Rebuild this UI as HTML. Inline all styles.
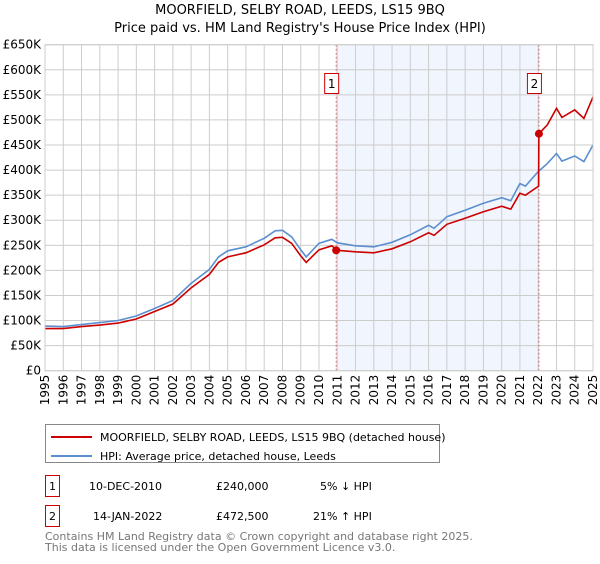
<!DOCTYPE html>
<html><head><meta charset="utf-8"><style>
body{margin:0;background:#fff;font-family:"DejaVu Sans","Liberation Sans",sans-serif;}
svg text{font-family:"DejaVu Sans","Liberation Sans",sans-serif;}
</style></head><body>
<svg id="chart" width="600" height="560">
<text x="300" y="14" text-anchor="middle" font-size="13" fill="#000">MOORFIELD, SELBY ROAD, LEEDS, LS15 9BQ</text>
<text x="300" y="32" text-anchor="middle" font-size="13" fill="#000">Price paid vs. HM Land Registry's House Price Index (HPI)</text>
<g id="plot"></g>
<g>
<rect x="45.5" y="424.5" width="394" height="38" fill="#fff" stroke="#888"/>
<line x1="51" y1="437" x2="92" y2="437" stroke="#cc0000" stroke-width="2"/>
<text x="100" y="441" font-size="11">MOORFIELD, SELBY ROAD, LEEDS, LS15 9BQ (detached house)</text>
<line x1="51" y1="456" x2="92" y2="456" stroke="#5b8fd0" stroke-width="2"/>
<text x="100" y="460" font-size="11">HPI: Average price, detached house, Leeds</text>
</g>
<g font-size="11">
<rect x="45.5" y="475.5" width="14" height="21" fill="#fff" stroke="#cc0000"/>
<text x="52.5" y="490" text-anchor="middle">1</text>
<text x="89" y="490">10-DEC-2010</text>
<text x="216" y="490">£240,000</text>
<text x="320" y="490">5% ↓ HPI</text>
<rect x="45.5" y="505.5" width="14" height="21" fill="#fff" stroke="#cc0000"/>
<text x="52.5" y="520" text-anchor="middle">2</text>
<text x="93" y="520">14-JAN-2022</text>
<text x="216" y="520">£472,500</text>
<text x="313" y="520">21% ↑ HPI</text>
</g>
<text x="45" y="540" font-size="11" fill="#777">Contains HM Land Registry data © Crown copyright and database right 2025.</text>
<text x="45" y="551" font-size="11" fill="#777">This data is licensed under the Open Government Licence v3.0.</text>
</svg>
<script>
const hpiYears=[1995,1996,1997,1998,1999,2000,2001,2002,2003,2004,2004.5,2005,2006,2007,2007.6,2008,2008.5,2009,2009.3,2010,2010.7,2011,2012,2013,2014,2015,2016,2016.3,2017,2018,2019,2020,2020.5,2021,2021.3,2022,2022.5,2023,2023.3,2024,2024.5,2025];
const hpiValues=[89,88,92,96,100,109,124,140,174,202,227,239,247,264,279,280,267,241,227,254,262,255,249,247,256,271,290,284,307,320,334,345,339,373,368,397,413,433,418,428,417,450];
const propYears=[1995,1996,1997,1998,1999,2000,2001,2002,2003,2004,2004.5,2005,2006,2007,2007.6,2008,2008.5,2009,2009.3,2010,2010.7,2011,2012,2013,2014,2015,2016,2016.3,2017,2018,2019,2020,2020.5,2021,2021.3,2022.02,2022.04,2022.5,2023,2023.3,2024,2024.5,2025];
const propValues=[84,84,88,91,95,103,118,133,165,192,216,227,235,251,265,266,254,229,216,241,249,240,237,235,243,257,275,270,292,304,317,328,322,354,350,368,472.5,490,523,505,520,503,546];
const saleYears=[2010.94,2022.04];
const saleValues=[240,472.5];
const saleLabels=["1","2"];
const yTicks=[0,50,100,150,200,250,300,350,400,450,500,550,600,650];
const xTicks=[1995,1996,1997,1998,1999,2000,2001,2002,2003,2004,2005,2006,2007,2008,2009,2010,2011,2012,2013,2014,2015,2016,2017,2018,2019,2020,2021,2022,2023,2024,2025];

const X0=45,X1=593,Y0=370.7,Y1=44.7;
const xs=y=>X0+(y-1995)/30*(X1-X0);
const ys=v=>Y0-v/650*(Y0-Y1);
const NS="http://www.w3.org/2000/svg";
const g=document.getElementById('plot');
function mk(t,a){const e=document.createElementNS(NS,t);for(const k in a)e.setAttribute(k,a[k]);g.appendChild(e);return e;}

const sh=mk('rect',{x:xs(saleYears[0]),y:Y1,width:xs(saleYears[1])-xs(saleYears[0]),height:Y0-Y1,fill:'#eef3fc',opacity:0.8});


yTicks.forEach(v=>{
 const l=mk('line',{x1:X0,x2:X1,y1:ys(v),y2:ys(v),stroke:'#ccc'});
 
 
 const t=mk('text',{x:41,y:ys(v)+4,'text-anchor':'end','font-size':12});
 t.textContent=v===0?'£0':'£'+v+'K';
 
 
});
xTicks.forEach(y=>{
 const l=mk('line',{x1:xs(y),x2:xs(y),y1:Y1,y2:Y0,stroke:'#ccc'});
 
 
 const t=mk('text',{x:0,y:0,'text-anchor':'end','font-size':12,transform:`translate(${xs(y)+4},${Y0+4}) rotate(-90)`});
 t.textContent=y;
 
 
});
saleYears.forEach((y,i)=>{
 const l=mk('line',{x1:xs(y),x2:xs(y),y1:Y1,y2:Y0,stroke:'#e05050','stroke-dasharray':'2,2','stroke-width':0.8});
 
 
});
function path(xa,va,col,name){
 const d=xa.map((y,i)=>(i?'L':'M')+xs(y).toFixed(1)+','+ys(va[i]).toFixed(1)).join('');
 const p=mk('path',{d:d,fill:'none',stroke:col,'stroke-width':1.6});
 
 
}
path(hpiYears,hpiValues,'#5b8fd0','hpi-line');
path(propYears,propValues,'#cc0000','property-line');
saleYears.forEach((y,i)=>{
 const c=mk('circle',{cx:xs(y),cy:ys(saleValues[i]),r:4,fill:'#cc0000'});
 
 
 const r=mk('rect',{x:xs(y)-11.5,y:73.5,width:14,height:20,fill:'#fff',stroke:'#cc0000'});
 
 
 const t=mk('text',{x:xs(y)-4.5,y:88,'text-anchor':'middle','font-size':12});
 t.textContent=saleLabels[i];
 
 
});
const fr=mk('rect',{x:X0,y:Y1,width:X1-X0,height:Y0-Y1,fill:'none',stroke:'#ccc'});


</script>
</body></html>
